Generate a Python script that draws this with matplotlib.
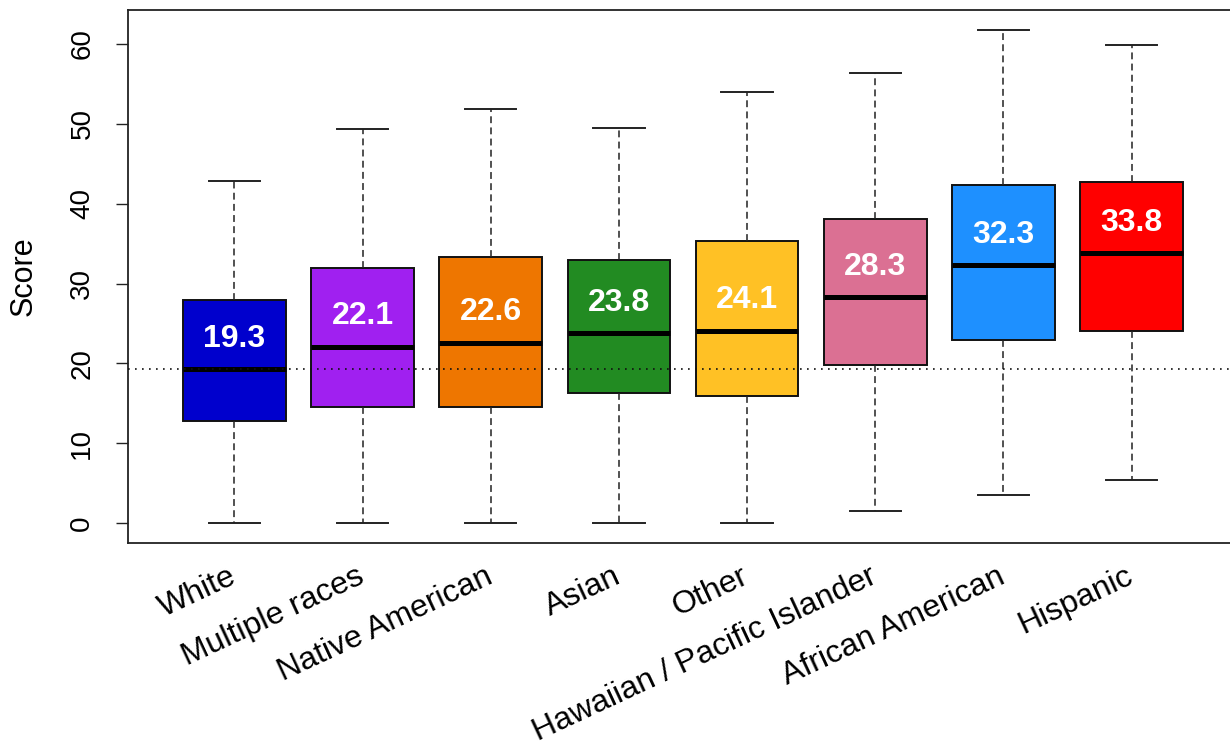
import matplotlib
matplotlib.use('Agg')
import matplotlib.pyplot as plt

# Score distribution by group
groups = ['White', 'Multiple races', 'Native American', 'Asian', 'Other',
          'Hawaiian / Pacific Islander', 'African American', 'Hispanic']
medians = [19.3, 22.1, 22.6, 23.8, 24.1, 28.3, 32.3, 33.8]
q1 = [12.8, 14.5, 14.5, 16.3, 15.9, 19.8, 22.9, 24.0]
q3 = [27.9, 31.9, 33.3, 32.9, 35.3, 38.1, 42.3, 42.7]
whis_lo = [0.0, 0.0, 0.0, 0.0, 0.0, 1.5, 3.5, 5.4]
whis_hi = [42.8, 49.4, 51.9, 49.5, 54.0, 56.4, 61.8, 59.9]
colours = ['#0000CD', '#A020F0', '#EE7600', '#228B22', '#FFC125',
           '#DB7093', '#1E90FF', '#FF0000']

plt.rcParams['font.family'] = ['Liberation Sans', 'DejaVu Sans']

W, H = 1230, 742
fig = plt.figure(figsize=(W / 100, H / 100), dpi=100)
ax = fig.add_axes([128 / W, (H - 543) / H, (1238 - 128) / W, (543 - 10) / H])

positions = list(range(1, len(groups) + 1))
stats = []
for i in range(len(groups)):
    stats.append({'med': medians[i], 'q1': q1[i], 'q3': q3[i],
                  'whislo': whis_lo[i], 'whishi': whis_hi[i], 'label': groups[i]})

bp = ax.bxp(stats, positions=positions, widths=0.8, capwidths=0.4,
            patch_artist=True, showfliers=False,
            boxprops=dict(edgecolor='#111111', linewidth=1.4),
            medianprops=dict(color='black', linewidth=3.6, solid_capstyle='butt'),
            whiskerprops=dict(color='#222222', linewidth=1.1, linestyle=(0, (4.5, 2.8))),
            capprops=dict(color='#222222', linewidth=1.4))

for patch, colour in zip(bp['boxes'], colours):
    patch.set_facecolor(colour)

# Reference line at the median of the first group
ax.axhline(medians[0], color='#111111', linewidth=1.2, linestyle=(0, (1, 3.2)), zorder=5)

# Median values written inside the boxes
for x, m in zip(positions, medians):
    ax.text(x, m + 3.8, f'{m:.1f}', color='white', fontsize=23, fontweight='bold',
            ha='center', va='center', zorder=6)

ax.set_xlim(0.17, 8.83)
ax.set_ylim(-2.5, 64.26)

ax.set_yticks([0, 10, 20, 30, 40, 50, 60])
ax.set_yticklabels(['0', '10', '20', '30', '40', '50', '60'], rotation=90, va='center',
                   fontsize=20)
ax.tick_params(axis='y', length=8.5, width=1.0, color='#222222', pad=15)

ax.set_xticks(positions)
ax.set_xticklabels(groups, rotation=25, ha='right', va='center', rotation_mode='anchor',
                   fontsize=23)
ax.tick_params(axis='x', length=0, pad=23)

ax.set_ylabel('Score', fontsize=22, labelpad=22)

for side in ['top', 'left', 'bottom']:
    ax.spines[side].set_linewidth(1.3)
    ax.spines[side].set_color('#222222')
ax.spines['right'].set_visible(False)

fig.savefig('out.png', dpi=100)
